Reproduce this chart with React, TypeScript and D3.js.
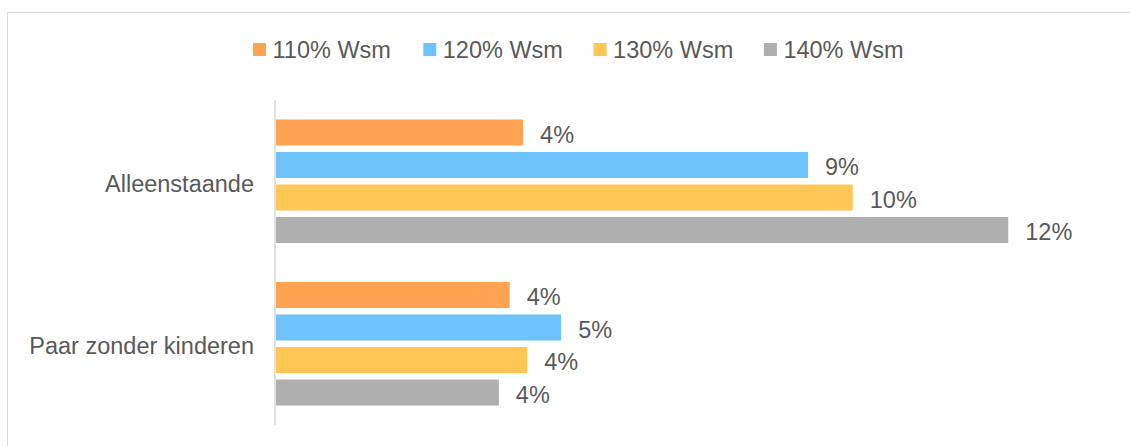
import * as d3 from "d3";

const categories = ["Alleenstaande", "Paar zonder kinderen"];
const seriesNames = ["110% Wsm", "120% Wsm", "130% Wsm", "140% Wsm"];
const seriesColors = ["#FFA352", "#6FC3FB", "#FFC655", "#AFAFAF"];
// percentages per category, one array per series
const wsm110 = [4.1, 3.88];
const wsm120 = [8.81, 4.73];
const wsm130 = [9.55, 4.17];
const wsm140 = [12.12, 3.7];
const seriesValues = [wsm110, wsm120, wsm130, wsm140];

const W = 1130;
const H = 446;

const FONT = {
  family: "'Liberation Sans', Arial, sans-serif",
  size: 23.5,
  color: "#595959",
};

const PLOT = { left: 275, right: 1122, top: 100, bottom: 425 };
const LABEL_GAP = 17;

const LEGEND = {
  x: 253,
  y: 43,
  box: 13,
  textOffset: 19.5,
  step: 170.3,
};

export default function App() {
  const xScale = d3
    .scaleLinear()
    .domain([0, 14])
    .range([PLOT.left, PLOT.right]);

  const yOuter = d3
    .scaleBand<string>()
    .domain(categories)
    .range([PLOT.top, PLOT.bottom]);

  const groupH = 130;
  const yInner = d3
    .scaleBand<string>()
    .domain(seriesNames)
    .range([0, groupH])
    .paddingInner(0.2)
    .paddingOuter(0.1);

  const groupOffset = (yOuter.bandwidth() - groupH) / 2;

  return (
    <svg
      width={W}
      height={H}
      style={{ position: "absolute", left: 0, top: 0, background: "#fff" }}
      xmlns="http://www.w3.org/2000/svg"
    >
      {/* chart frame, runs past the right and bottom edges */}
      <rect
        x={7.5}
        y={12.5}
        width={W + 20}
        height={H + 20}
        fill="none"
        stroke="#D9D9D9"
        strokeWidth={1}
      />

      <g className="legend">
        {seriesNames.map((name, i) => {
          const lx = LEGEND.x + i * LEGEND.step;
          return (
            <g key={name}>
              <rect
                x={lx}
                y={LEGEND.y}
                width={LEGEND.box}
                height={LEGEND.box}
                fill={seriesColors[i]}
              />
              <text
                x={lx + LEGEND.textOffset}
                y={58.3}
                fontSize={FONT.size}
                fontFamily={FONT.family}
                fill={FONT.color}
              >
                {name}
              </text>
            </g>
          );
        })}
      </g>

      <line
        x1={PLOT.left}
        y1={PLOT.top}
        x2={PLOT.left}
        y2={PLOT.bottom}
        stroke="#D9D9D9"
        strokeWidth={1.5}
      />

      <g className="categories">
        {categories.map((cat) => (
          <text
            key={cat}
            x={254}
            y={yOuter(cat)! + yOuter.bandwidth() / 2 + 10.5}
            textAnchor="end"
            fontSize={FONT.size}
            fontFamily={FONT.family}
            fill={FONT.color}
          >
            {cat}
          </text>
        ))}
      </g>

      <g className="bars">
        {categories.map((cat, ci) =>
          seriesNames.map((name, si) => {
            const v = seriesValues[si][ci];
            const y = yOuter(cat)! + groupOffset + yInner(name)!;
            const x0 = xScale(0) + 1;
            const x1 = xScale(v);
            return (
              <g key={cat + name}>
                <rect
                  x={x0}
                  y={y}
                  width={x1 - x0}
                  height={yInner.bandwidth()}
                  fill={seriesColors[si]}
                />
                <text
                  x={x1 + LABEL_GAP}
                  y={y + yInner.bandwidth() / 2 + 10.2}
                  fontSize={FONT.size}
                  fontFamily={FONT.family}
                  fill={FONT.color}
                >
                  {Math.round(v)}%
                </text>
              </g>
            );
          }),
        )}
      </g>
    </svg>
  );
}
